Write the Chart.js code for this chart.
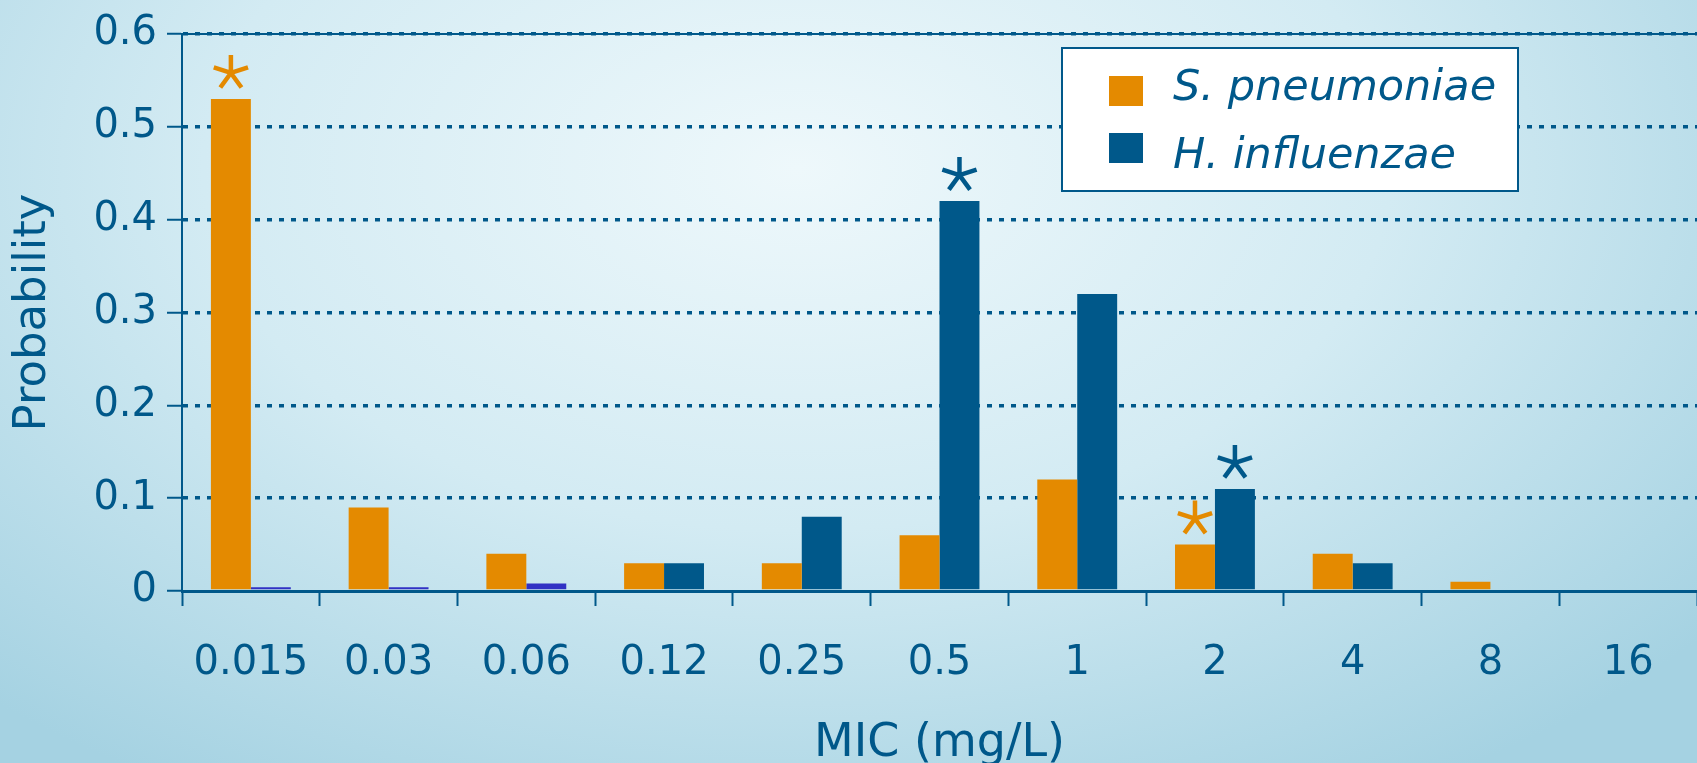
<!DOCTYPE html>
<html>
<head>
<meta charset="utf-8">
<script src="https://cdn.jsdelivr.net/npm/chart.js@4"></script>
<style>
  html, body { margin: 0; padding: 0; }
  body {
    width: 1697px; height: 763px; overflow: hidden;
    background: radial-gradient(ellipse 70% 95% at 47% 22%, #eef8fb 0%, #d3ebf3 50%, #a5d2e2 100%);
  }
</style>
</head>
<body>
<canvas id="myChart" width="1697" height="763"></canvas>
<script>
// data
const mics = ['0.015', '0.03', '0.06', '0.12', '0.25', '0.5', '1', '2', '4', '8', '16'];
const pneumoniae = [0.53, 0.09, 0.04, 0.03, 0.03, 0.06, 0.12, 0.05, 0.04, 0.01, 0];
const influenzae = [0.004, 0.004, 0.008, 0.03, 0.08, 0.42, 0.32, 0.11, 0.03, 0, 0];
const yTicks = [0, 0.1, 0.2, 0.3, 0.4, 0.5, 0.6];
// bars marked with an asterisk
const starPneumoniae = ['0.015', '2'];
const starInfluenzae = ['0.5', '2'];

const orange = '#e48a00';
const navy = '#00588a';
const tinyBlue = '#3131c4';
const font = '"DejaVu Sans", sans-serif';

// asterisks + legend box + solid top line
const extras = {
  id: 'extras',
  afterDatasetsDraw(chart) {
    const ctx = chart.ctx;
    const marks = [[0, starPneumoniae, orange], [1, starInfluenzae, navy]];
    marks.forEach(([ds, cats, color]) => {
      const meta = chart.getDatasetMeta(ds);
      cats.forEach(c => {
        const bar = meta.data[mics.indexOf(c)];
        const cx = bar.x, cy = bar.y - 26, r = 18;
        ctx.save();
        ctx.strokeStyle = color;
        ctx.lineWidth = 4.5;
        ctx.beginPath();
        for (let k = 0; k < 5; k++) {
          const a = -Math.PI / 2 + k * 2 * Math.PI / 5;
          ctx.moveTo(cx, cy);
          ctx.lineTo(cx + r * Math.cos(a), cy + r * Math.sin(a));
        }
        ctx.stroke();
        ctx.restore();
      });
    });
  },
  afterDraw(chart) {
    const ctx = chart.ctx;
    const area = chart.chartArea;
    ctx.save();
    // top frame line
    ctx.strokeStyle = navy;
    ctx.lineWidth = 2;
    ctx.beginPath();
    ctx.moveTo(area.left, area.top);
    ctx.lineTo(area.right, area.top);
    ctx.stroke();

    // legend
    ctx.fillStyle = '#ffffff';
    ctx.fillRect(1062, 48, 456, 143);
    ctx.strokeRect(1062, 48, 456, 143);
    const rows = [[76, 100], [133, 168]];
    const sw = [orange, navy];
    chart.data.datasets.forEach((d, i) => {
      ctx.fillStyle = sw[i];
      ctx.fillRect(1109, rows[i][0], 34, 30);
      ctx.fillStyle = navy;
      ctx.font = 'italic 43px ' + font;
      ctx.textBaseline = 'alphabetic';
      ctx.textAlign = 'left';
      ctx.fillText(d.label, 1173, rows[i][1]);
    });
    ctx.restore();
  }
};

const ctx = document.getElementById('myChart').getContext('2d');
window.myChart = new Chart(ctx, {
  type: 'bar',
  data: {
    labels: mics,
    datasets: [
      {
        label: 'S. pneumoniae',
        data: pneumoniae,
        backgroundColor: orange,
        borderWidth: 0,
      },
      {
        label: 'H. influenzae',
        data: influenzae,
        backgroundColor: influenzae.map(v => v < 0.01 ? tinyBlue : navy),
        borderWidth: 0,
      }
    ]
  },
  options: {
    responsive: false,
    animation: false,
    layout: { padding: { top: 30, right: 0, bottom: 0, left: 0 } },
    categoryPercentage: 0.58,
    barPercentage: 1,
    plugins: {
      legend: { display: false },
      tooltip: { enabled: false }
    },
    scales: {
      x: {
        grid: {
          drawOnChartArea: false,
          tickLength: 15,
          tickWidth: 2,
          tickColor: navy,
          offset: true
        },
        border: { color: navy, width: 3 },
        ticks: {
          color: navy,
          font: { family: font, size: 40 },
          padding: 34,
          maxRotation: 0,
          autoSkip: false
        },
        title: {
          display: true,
          text: 'MIC (mg/L)',
          color: navy,
          font: { family: font, size: 46 },
          padding: { top: 0, bottom: -9 }
        },
        afterFit: s => { s.height = 172; }
      },
      y: {
        min: 0,
        max: 0.6,
        afterBuildTicks: s => { s.ticks = yTicks.map(v => ({ value: v })); },
        grid: {
          // no dotted line on the baseline, the axis line sits there
          color: c => (c.tick && c.tick.value === 0) ? 'rgba(0,0,0,0)' : navy,
          lineWidth: 3.5,
          tickLength: 15,
          tickWidth: 2,
          tickColor: navy,
          tickBorderDash: []
        },
        border: { color: navy, width: 2, dash: [5, 7] },
        ticks: {
          color: navy,
          font: { family: font, size: 40 },
          padding: 10,
          callback: v => v === 0 ? '0' : v.toFixed(1)
        },
        title: {
          display: true,
          text: 'Probability',
          color: navy,
          font: { family: font, size: 45 },
          padding: { top: 6, bottom: 0 }
        },
        afterFit: s => { s.width = 182; }
      }
    }
  },
  plugins: [extras]
});
</script>
</body>
</html>
